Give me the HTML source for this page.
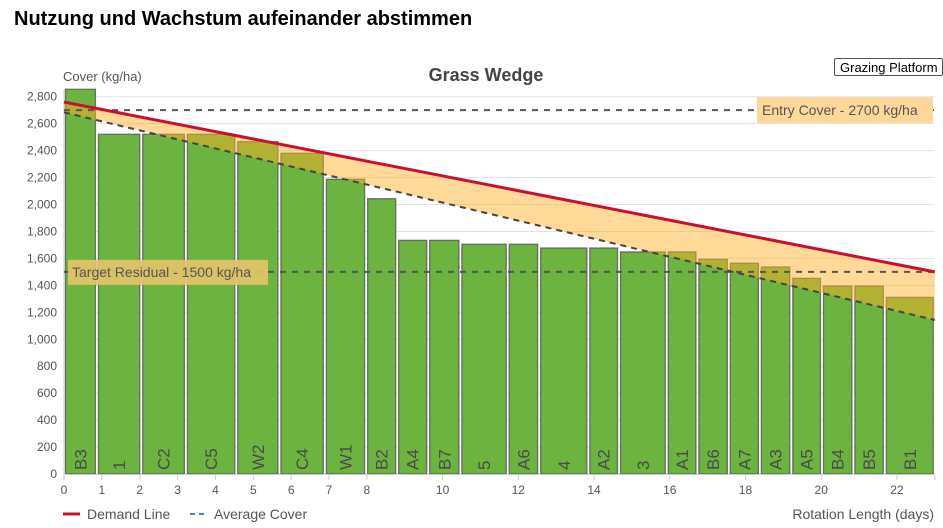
<!DOCTYPE html>
<html><head><meta charset="utf-8">
<style>
body{margin:0;background:#fff;width:943px;height:528px;overflow:hidden;font-family:"Liberation Sans",sans-serif;}
#h{position:absolute;left:14px;top:8px;font-size:20px;font-weight:bold;color:#000;margin:0;}
#btn{position:absolute;left:834px;top:58px;height:18px;border:1px solid #555;border-radius:2px;font-size:13px;line-height:18px;padding-left:5px;box-sizing:border-box;width:109px;background:#fff;color:#000;}
svg{position:absolute;left:0;top:0;}
</style></head><body>
<h1 id="h">Nutzung und Wachstum aufeinander abstimmen</h1>
<svg id="c" width="943" height="528"></svg>
<div id="btn">Grazing Platform</div>
<script>
const paddocks=["B3","1","C2","C5","W2","C4","W1","B2","A4","B7","5","A6","4","A2","3","A1","B6","A7","A3","A5","B4","B5","B1"];
const covers=[2855,2521,2521,2521,2466,2380,2187,2043,1734,1734,1705,1705,1677,1677,1648,1648,1593,1564,1536,1452,1395,1395,1311];
const widths=[0.87,1.17,1.18,1.33,1.14,1.2,1.09,0.82,0.82,0.85,1.25,0.83,1.3,0.81,1.26,0.81,0.83,0.82,0.83,0.81,0.83,0.83,1.32];
const yTicks=[0,200,400,600,800,1000,1200,1400,1600,1800,2000,2200,2400,2600,2800];
const xTicks=[0,1,2,3,4,5,6,7,8,10,12,14,16,18,20,22];
const demand=[2760,1500];
const average=[2684,1143];
const entryCover=2700, targetResidual=1500, maxDays=23;

const NS="http://www.w3.org/2000/svg";
const svg=document.getElementById('c');
const X=d=>64+d*37.86;
const Y=v=>474-v*0.13475;
function el(tag,attrs,parent){const e=document.createElementNS(NS,tag);for(const k in attrs)e.setAttribute(k,attrs[k]);(parent||svg).appendChild(e);return e;}
function txt(s,attrs){const t=el('text',attrs);t.textContent=s;return t;}

yTicks.forEach(v=>{
  const g=el('line',{x1:X(0),x2:X(maxDays),y1:Y(v),y2:Y(v),stroke:'#e3e3e3','stroke-width':1});
  
  
  const t=txt(v.toLocaleString('en-US'),{x:57,y:Y(v)+4,'text-anchor':'end','font-size':12,fill:'#555'});
  
  
});
el('line',{x1:X(0),x2:X(0),y1:Y(2850),y2:Y(0),stroke:'#ccc'});

let start=0;
paddocks.forEach((p,i)=>{
  const x0=X(start+0.04), x1=X(start+widths[i]-0.04);
  const r=el('rect',{x:x0,y:Y(covers[i]),width:x1-x0,height:Y(0)-Y(covers[i]),fill:'#6db33f',stroke:'#555','stroke-width':1.3,'stroke-opacity':0.8});
  
  
  const cx=(x0+x1)/2;
  const t=txt(p,{x:0,y:0,transform:`translate(${cx+6},470) rotate(-90)`,'font-size':17,fill:'#4a4a4a'});
  
  
  start+=widths[i];
});

const band=el('polygon',{points:`${X(0)},${Y(demand[0])} ${X(maxDays)},${Y(demand[1])} ${X(maxDays)},${Y(average[1])} ${X(0)},${Y(average[0])}`,fill:'rgb(253,176,40)','fill-opacity':0.48});



const e1=el('line',{x1:X(0),x2:X(maxDays),y1:Y(entryCover),y2:Y(entryCover),stroke:'#555','stroke-width':2,'stroke-dasharray':'6,6'});


const e2=el('line',{x1:X(0),x2:X(maxDays),y1:Y(targetResidual),y2:Y(targetResidual),stroke:'#555','stroke-width':2,'stroke-dasharray':'6,6'});



const av=el('line',{x1:X(0),x2:X(maxDays),y1:Y(average[0]),y2:Y(average[1]),stroke:'#444','stroke-width':2,'stroke-dasharray':'6,5'});


const dl=el('line',{x1:X(0),x2:X(maxDays),y1:Y(demand[0]),y2:Y(demand[1]),stroke:'#c8102e','stroke-width':3});



const lb1=el('rect',{x:757,y:Y(entryCover)-13,width:176,height:26,fill:'#fdd89a'});


const lt1=txt('Entry Cover - 2700 kg/ha',{x:762,y:Y(entryCover)+5,'font-size':14,fill:'#555'});


const lb2=el('rect',{x:68,y:Y(targetResidual)-12,width:200,height:25,fill:'#e6c36a','fill-opacity':0.9});


const lt2=txt('Target Residual - 1500 kg/ha',{x:72,y:Y(targetResidual)+5,'font-size':14,fill:'#555'});



el('line',{x1:X(0),x2:X(maxDays),y1:474.5,y2:474.5,stroke:'#ccc'});
xTicks.forEach(d=>{
  el('line',{x1:X(d),x2:X(d),y1:474,y2:480,stroke:'#ccc'});
  const t=txt(String(d),{x:X(d),y:494,'text-anchor':'middle','font-size':12,fill:'#555'});
  
  
});
el('line',{x1:X(maxDays),x2:X(maxDays),y1:474,y2:480,stroke:'#ccc'});

const ct=txt('Grass Wedge',{x:486,y:81,'text-anchor':'middle','font-size':18,'font-weight':'bold',fill:'#444'});


const yt=txt('Cover (kg/ha)',{x:63,y:81,'font-size':13,fill:'#555'});


const xt=txt('Rotation Length (days)',{x:934,y:519,'text-anchor':'end','font-size':14,fill:'#555'});



const lg1=el('g',{});


el('line',{x1:63,x2:80,y1:514,y2:514,stroke:'#c8102e','stroke-width':3},lg1);
const l1=document.createElementNS(NS,'text');l1.setAttribute('x',87);l1.setAttribute('y',519);l1.setAttribute('font-size',14);l1.setAttribute('fill','#555');l1.textContent='Demand Line';lg1.appendChild(l1);
const lg2=el('g',{});


el('line',{x1:190,x2:208,y1:514,y2:514,stroke:'#4a7fc1','stroke-width':2,'stroke-dasharray':'5,4'},lg2);
const l2=document.createElementNS(NS,'text');l2.setAttribute('x',214);l2.setAttribute('y',519);l2.setAttribute('font-size',14);l2.setAttribute('fill','#555');l2.textContent='Average Cover';lg2.appendChild(l2);
</script>
</body></html>
